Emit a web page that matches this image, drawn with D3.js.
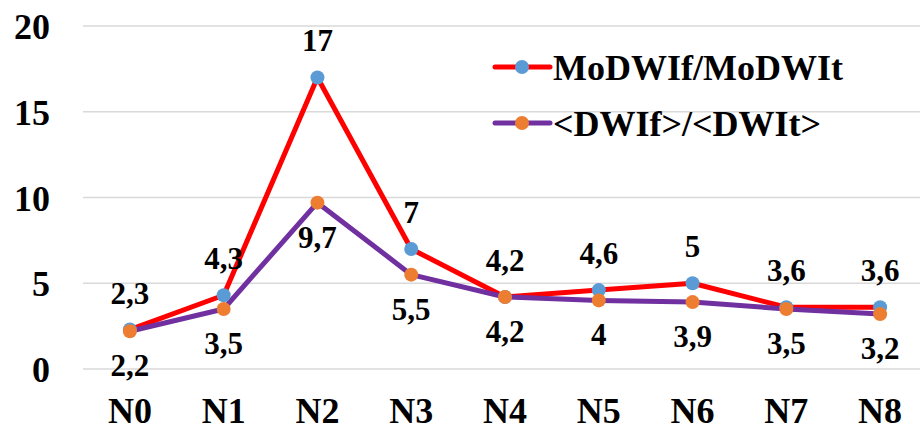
<!DOCTYPE html>
<html>
<head>
<meta charset="utf-8">
<script src="https://cdn.jsdelivr.net/npm/d3@7"></script>
<style>
  body { margin: 0; background: #fff; }
  svg text { font-family: Liberation Serif, serif; font-weight: bold; }
</style>
</head>
<body>
<div id="chart"></div>
<script>
const categories = ['N0', 'N1', 'N2', 'N3', 'N4', 'N5', 'N6', 'N7', 'N8']
const modValues = [2.3, 4.3, 17, 7, 4.2, 4.6, 5, 3.6, 3.6]
const meanValues = [2.2, 3.5, 9.7, 5.5, 4.2, 4, 3.9, 3.5, 3.2]
const yTicks = [0, 5, 10, 15, 20]
const seriesNames = ['MoDWIf/MoDWIt', '<DWIf>/<DWIt>']

const W = 920, H = 430
const FONT = 'Liberation Serif'

const svg = d3.select('#chart')
  .append('svg')
  .attr('width', W)
  .attr('height', H)
  .attr('font-family', FONT)

// Scales
const x = d3.scaleBand()
  .domain(categories)
  .range([83, 927])

const y = d3.scaleLinear()
  .domain([0, 20])
  .range([369, 26])

const cx = d => x(d) + x.bandwidth() / 2

// gridlines
svg.append('g')
  .selectAll('line')
  .data(yTicks)
  .enter()
  .append('line')
  .attr('x1', 83)
  .attr('x2', W)
  .attr('y1', d => y(d))
  .attr('y2', d => y(d))
  .attr('stroke', '#d9d9d9')
  .attr('stroke-width', 1.5)

// y axis labels
const yAxis = d3.axisLeft(y).tickValues(yTicks).tickSize(0).tickPadding(0)
svg.append('g')
  .attr('transform', 'translate(50,0)')
  .call(yAxis)
  .attr('font-family', FONT)
  .call(g => g.select('.domain').remove())
  .selectAll('text')
  .style('font-family', FONT)
  .style('font-weight', 'bold')
  .style('font-size', '36px')
  .attr('fill', '#000')
  .attr('dy', '0.35em')

// x axis labels
const xAxis = d3.axisBottom(x).tickSize(0).tickPadding(0)
svg.append('g')
  .attr('transform', 'translate(0,398)')
  .call(xAxis)
  .attr('font-family', FONT)
  .call(g => g.select('.domain').remove())
  .selectAll('text')
  .style('font-family', FONT)
  .style('font-weight', 'bold')
  .style('font-size', '36px')
  .attr('fill', '#000')
  .attr('dy', '0.7em')

const line = d3.line()
  .x((d, i) => cx(categories[i]))
  .y(d => y(d))

const series = [
  { name: seriesNames[0], values: modValues, stroke: '#ff0000', marker: '#5b9bd5', dy: -26 },
  { name: seriesNames[1], values: meanValues, stroke: '#7030a0', marker: '#ed7d31', dy: 45 }
]

// lines
series.forEach(s => {
  svg.append('path')
    .datum(s.values)
    .attr('fill', 'none')
    .attr('stroke', s.stroke)
    .attr('stroke-width', 5)
    .attr('stroke-linejoin', 'round')
    .attr('d', line)
})

// markers
series.forEach(s => {
  svg.append('g')
    .selectAll('circle')
    .data(s.values)
    .enter()
    .append('circle')
    .attr('cx', (d, i) => cx(categories[i]))
    .attr('cy', d => y(d))
    .attr('r', 7)
    .attr('fill', s.marker)
})

// data labels
const fmt = v => String(v).replace('.', ',')
series.forEach(s => {
  svg.append('g')
    .selectAll('text')
    .data(s.values)
    .enter()
    .append('text')
    .attr('x', (d, i) => cx(categories[i]))
    .attr('y', d => y(d) + s.dy)
    .attr('text-anchor', 'middle')
    .style('font-family', FONT)
    .style('font-weight', 'bold')
    .style('font-size', '31px')
    .text(d => fmt(d))
})

// legend
const legend = svg.append('g')
series.forEach((s, i) => {
  const ly = 67 + i * 56
  legend.append('line')
    .attr('x1', 495).attr('x2', 550)
    .attr('y1', ly).attr('y2', ly)
    .attr('stroke', s.stroke)
    .attr('stroke-width', 5)
    .attr('stroke-linecap', 'round')
  legend.append('circle')
    .attr('cx', 522).attr('cy', ly).attr('r', 7)
    .attr('fill', s.marker)
  legend.append('text')
    .attr('x', 553)
    .attr('y', ly + 13)
    .style('font-family', FONT)
    .style('font-weight', 'bold')
    .style('font-size', '36px')
    .text(s.name)
})
</script>
</body>
</html>
